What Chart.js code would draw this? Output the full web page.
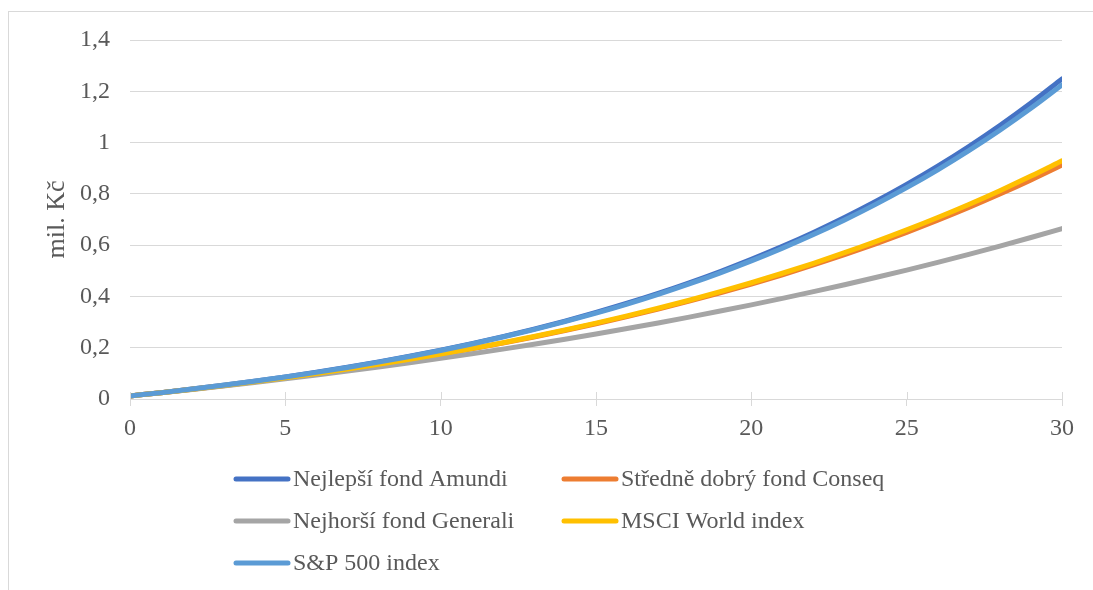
<!DOCTYPE html>
<html lang="cs">
<head>
<meta charset="utf-8">
<title>Zhodnocení pravidelné investice</title>
<script src="https://cdn.jsdelivr.net/npm/chart.js@4.4.1/dist/chart.umd.min.js"></script>
<style>
  html, body { margin: 0; padding: 0; background: #ffffff; }
  #wrap { width: 1093px; height: 590px; position: relative; }
</style>
</head>
<body>
<div id="wrap"><canvas id="chart" width="1093" height="590"></canvas></div>
<script>
// Roky investování
const years = [0,1,2,3,4,5,6,7,8,9,10,11,12,13,14,15,16,17,18,19,20,21,22,23,24,25,26,27,28,29,30];

// Hodnota investice v mil. Kč
const amundi = [0.012,0.0249,0.0386,0.0534,0.0691,0.0861,0.1042,0.1236,0.1443,0.1666,0.1904,0.2159,0.2433,0.2725,0.3039,0.3375,0.3734,0.4119,0.4532,0.4973,0.5447,0.5953,0.6496,0.7077,0.7700,0.8366,0.9080,0.9845,1.0664,1.1541,1.2481];
const conseq = [0.012,0.0246,0.0380,0.0520,0.0668,0.0824,0.0989,0.1162,0.1345,0.1538,0.1741,0.1955,0.2180,0.2418,0.2669,0.2933,0.3211,0.3505,0.3814,0.4140,0.4483,0.4846,0.5227,0.5629,0.6053,0.6500,0.6971,0.7468,0.7991,0.8543,0.9124];
const generali = [0.012,0.0244,0.0373,0.0507,0.0645,0.0788,0.0936,0.1090,0.1249,0.1414,0.1585,0.1762,0.1946,0.2136,0.2333,0.2537,0.2748,0.2967,0.3194,0.3429,0.3672,0.3924,0.4186,0.4456,0.4737,0.5027,0.5328,0.5640,0.5963,0.6298,0.6644];
const msci = [0.012,0.0247,0.0380,0.0521,0.0670,0.0827,0.0992,0.1167,0.1351,0.1545,0.1750,0.1966,0.2194,0.2435,0.2689,0.2957,0.3240,0.3538,0.3852,0.4184,0.4534,0.4904,0.5293,0.5705,0.6138,0.6596,0.7079,0.7588,0.8125,0.8692,0.9290];
const sp500 = [0.012,0.0248,0.0386,0.0533,0.0690,0.0858,0.1039,0.1231,0.1437,0.1658,0.1894,0.2147,0.2417,0.2706,0.3016,0.3347,0.3701,0.4080,0.4486,0.4920,0.5384,0.5881,0.6412,0.6981,0.7590,0.8241,0.8938,0.9684,1.0482,1.1335,1.2249];

const seriesNames = ['Nejlepší fond Amundi', 'Středně dobrý fond Conseq', 'Nejhorší fond Generali', 'MSCI World index', 'S&P 500 index'];
const seriesColors = ['#4472C4', '#ED7D31', '#A5A5A5', '#FFC000', '#5B9BD5'];
const seriesValues = [amundi, conseq, generali, msci, sp500];

const yTitle = 'mil. Kč';
const yTicks = { min: 0, max: 1.4, step: 0.2 };
const xTicks = { min: 0, max: 30, step: 5 };

const FONT = '"Liberation Serif", "Times New Roman", "DejaVu Serif", serif';
const TEXT = '#595959';
const GRID = '#d9d9d9';

// Later series are painted on top of earlier ones
const datasets = seriesValues.map((vals, i) => ({
  label: seriesNames[i],
  data: years.map((yr, k) => ({ x: yr, y: vals[k] })),
  borderColor: seriesColors[i],
  backgroundColor: seriesColors[i],
  borderWidth: 5,
  borderCapStyle: 'round',
  borderJoinStyle: 'round',
  pointRadius: 0,
  pointHoverRadius: 0,
  cubicInterpolationMode: 'monotone',
  fill: false,
  order: seriesValues.length - i
}));

// Outer frame of the chart
const framePlugin = {
  id: 'frame',
  beforeDraw(chart) {
    const ctx = chart.ctx;
    ctx.save();
    ctx.fillStyle = '#ffffff';
    ctx.fillRect(0, 0, chart.width, chart.height);
    ctx.strokeStyle = GRID;
    ctx.lineWidth = 1;
    ctx.strokeRect(8.5, 11.5, chart.width + 20, chart.height + 20);
    ctx.restore();
  }
};

// Tick marks on the horizontal axis cross the axis line
const crossTicksPlugin = {
  id: 'crossTicks',
  afterDraw(chart) {
    const xs = chart.scales.x;
    const ctx = chart.ctx;
    ctx.save();
    ctx.strokeStyle = GRID;
    ctx.lineWidth = 1;
    xs.ticks.forEach(t => {
      const px = Math.round(xs.getPixelForValue(t.value)) + 0.5;
      ctx.beginPath();
      ctx.moveTo(px, xs.top - 7);
      ctx.lineTo(px, xs.top);
      ctx.stroke();
    });
    ctx.restore();
  }
};

// Two-column legend below the plot
const legendPlugin = {
  id: 'gridLegend',
  afterDraw(chart) {
    const ctx = chart.ctx;
    const colX = [234, 562];
    const rowY = [479, 521, 563];
    ctx.save();
    ctx.font = '24px ' + FONT;
    ctx.textBaseline = 'middle';
    ctx.textAlign = 'left';
    chart.data.datasets.forEach((ds, i) => {
      const x = colX[i % 2];
      const y = rowY[Math.floor(i / 2)];
      ctx.strokeStyle = ds.borderColor;
      ctx.lineWidth = 5;
      ctx.lineCap = 'round';
      ctx.beginPath();
      ctx.moveTo(x + 2, y);
      ctx.lineTo(x + 54, y);
      ctx.stroke();
      ctx.fillStyle = TEXT;
      ctx.fillText(ds.label, x + 59, y + 1);
    });
    ctx.restore();
  }
};

function fmtTick(v) {
  const r = Math.round(v * 10) / 10;
  return (Number.isInteger(r) ? String(r) : r.toFixed(1)).replace('.', ',');
}

new Chart(document.getElementById('chart'), {
  type: 'line',
  data: { datasets },
  plugins: [framePlugin, crossTicksPlugin, legendPlugin],
  options: {
    responsive: false,
    animation: false,
    devicePixelRatio: 1,
    layout: { padding: { left: 0, right: 31, top: 40, bottom: 151 } },
    plugins: {
      legend: { display: false },
      tooltip: { enabled: false },
      title: { display: false }
    },
    scales: {
      x: {
        type: 'linear',
        min: xTicks.min,
        max: xTicks.max,
        afterFit(s) { s.height = 40; },
        ticks: {
          stepSize: xTicks.step,
          color: TEXT,
          font: { family: FONT, size: 24 },
          padding: 8,
          maxRotation: 0
        },
        grid: {
          display: true,
          drawOnChartArea: false,
          drawTicks: true,
          tickLength: 7,
          color: GRID,
          lineWidth: 1
        },
        border: { display: true, color: GRID, width: 1 }
      },
      y: {
        min: yTicks.min,
        max: yTicks.max,
        afterFit(s) { s.width = 130; },
        ticks: {
          stepSize: yTicks.step,
          color: TEXT,
          font: { family: FONT, size: 24 },
          padding: 20,
          callback: (v) => fmtTick(v)
        },
        grid: { color: GRID, lineWidth: 1, drawTicks: false },
        border: { display: false },
        title: {
          display: true,
          text: yTitle,
          color: TEXT,
          font: { family: FONT, size: 26 },
          padding: { top: 42, bottom: 0 }
        }
      }
    }
  }
});
</script>
</body>
</html>
